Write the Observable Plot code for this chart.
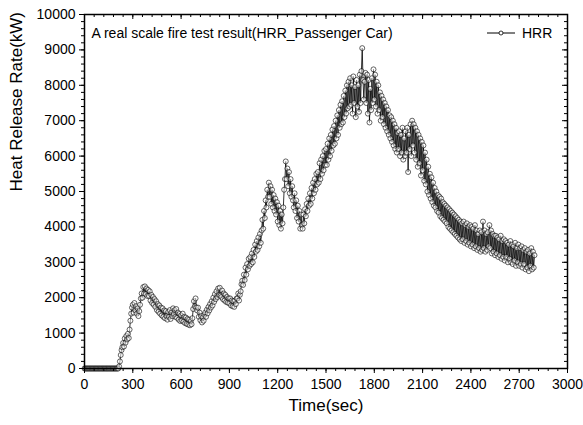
<!DOCTYPE html>
<html><head><meta charset="utf-8">
<script src="https://cdn.jsdelivr.net/npm/d3@7"></script>
<script src="https://cdn.jsdelivr.net/npm/@observablehq/plot@0.6"></script>
<style>
body{margin:0;background:#fff;}
svg{font-family:"Liberation Sans",Arial,sans-serif;}
</style>
</head><body><div id="chart"></div>
<script>
// ---- data ----
const timeStart = 0;      // s
const timeStep = 5;       // s between samples
const hrr = [
  0,0,0,0,0,0,0,0,0,0,
  0,0,0,0,0,0,0,0,0,0,
  0,0,0,0,0,0,0,0,0,0,
  0,0,0,0,0,0,0,0,0,0,
  0,0,0,60,200,380,520,600,720,620,
  850,730,920,820,980,860,1100,1350,1550,1720,
  1800,1580,1850,1650,1760,1550,1700,1480,1620,1800,
  1980,2120,2000,2300,2120,2320,2100,2260,2050,2220,
  2050,2180,1920,2080,1850,2020,1800,1960,1740,1900,
  1650,1820,1600,1780,1550,1720,1500,1700,1460,1640,
  1420,1620,1480,1380,1600,1460,1650,1400,1580,1480,
  1700,1540,1650,1460,1680,1430,1580,1380,1540,1340,
  1500,1360,1550,1320,1460,1280,1440,1260,1400,1240,
  1380,1220,1340,1250,1420,1680,1900,1760,1980,1720,
  1640,1720,1460,1580,1360,1480,1300,1440,1350,1520,
  1580,1460,1660,1560,1740,1640,1820,1720,1900,1780,
  2000,1880,2100,1960,2180,2020,2260,2080,2280,2060,
  2020,2200,1960,2120,1920,2080,1880,2020,1860,1980,
  1840,1980,1780,1920,1760,1900,1740,1920,1820,1980,
  1980,2120,1920,2080,2180,2380,2480,2360,2650,2500,
  2850,2650,2950,2800,3100,2900,3150,2950,3250,3000,
  3350,3150,3500,3300,3600,3350,3700,3450,3800,3550,
  3900,4200,3950,4450,4250,4750,4550,5050,4850,5250,
  4850,5150,4650,5050,4550,4900,4450,4800,4350,4700,
  4150,4600,4050,4450,3950,4350,4100,4550,5050,5350,
  5850,5350,5650,5150,5550,4950,5350,4850,5150,4750,
  4550,4950,4450,4750,4250,4600,4150,4450,3950,4350,
  4050,3950,4350,4100,4500,4300,4650,4450,4800,4600,
  4950,4650,5100,4800,5250,4950,5350,5050,5500,5200,
  5550,5250,5800,5350,5900,5500,6000,5600,6150,5750,
  6200,5750,6350,5900,6500,6000,6600,6150,6750,6300,
  6850,6350,7000,6500,7150,6600,7300,6800,7450,6900,
  7550,6950,7700,7100,7850,7200,8000,7350,8100,7400,
  8200,7450,8000,7200,8250,7500,7950,7100,8150,7400,
  8000,7250,8300,7500,8400,9050,8150,7600,8100,8350,
  7500,8300,7200,8150,6950,7900,7300,8200,7500,8450,
  7600,8300,7400,8100,7200,8000,7300,7800,7000,7700,
  7100,7600,6900,7500,6800,7400,6700,7300,6600,7150,
  6500,7100,6400,7000,6300,6900,6200,6800,6100,6650,
  6200,6700,6000,6600,6100,6800,5900,6500,6000,6700,
  6100,6800,5550,6600,6200,6900,6000,7000,6300,6900,
  6100,6800,5900,6700,5700,6600,5800,6500,5450,6400,
  5600,6300,5300,6100,5200,5900,5000,5700,4900,5500,
  4800,5400,4700,5250,4600,5100,4550,5000,4450,4900,
  4400,4850,4300,4800,4250,4700,4200,4650,4150,4600,
  4100,4550,4000,4500,3950,4450,3900,4400,3850,4350,
  3800,4300,3750,4250,3700,4200,3650,4150,3600,4100,
  3650,4150,3550,4050,3600,4100,3500,4000,3550,4050,
  3450,4000,3500,3950,3400,4050,3450,3900,3350,3800,
  3400,3900,3300,3850,3350,4150,3400,3900,3300,3800,
  3350,3850,3450,4050,3400,3900,3250,3800,3300,3750,
  3200,3750,3250,3700,3150,3650,3200,3750,3100,3600,
  3150,3650,3050,3600,3150,3550,3000,3500,3100,3600,
  3000,3500,2950,3450,3050,3550,2900,3400,3000,3500,
  2900,3400,2950,3450,2850,3350,2950,3400,2800,3300,
  2850,3350,2750,3250,2900,3400,2800,3300,2850,3200
];
const xTicks = [0,300,600,900,1200,1500,1800,2100,2400,2700,3000];
const yTicks = [0,1000,2000,3000,4000,5000,6000,7000,8000,9000,10000];
const xMinorStep = 60;
const yMinorStep = 200;
const titleText = "A real scale fire test result(HRR_Passenger Car)";
const seriesName = "HRR";
const xLabel = "Time(sec)";
const yLabel = "Heat Release Rate(kW)";

// ---- build ----
const data = hrr.map((v, i) => ({t: timeStart + i * timeStep, v}));
const xMinor = d3.range(xTicks[0], xTicks[xTicks.length - 1] + 1, xMinorStep);
const yMinor = d3.range(yTicks[0], yTicks[yTicks.length - 1] + 1, yMinorStep);

const W = 583, H = 425, mL = 84, mR = 16, mT = 14, mB = 57;
const pW = W - mL - mR, pH = H - mT - mB;
const fmt = d3.format("d");

const chart = Plot.plot({
  width: W, height: H,
  marginLeft: mL, marginRight: mR, marginTop: mT, marginBottom: mB,
  style: {fontFamily: "Liberation Sans, Arial, sans-serif", fontSize: "14px", background: "#fff", color: "#000"},
  x: {domain: [xTicks[0], xTicks[xTicks.length - 1]], label: null},
  y: {domain: [yTicks[0], yTicks[yTicks.length - 1]], label: null},
  marks: [
    Plot.line(data, {x: "t", y: "v", stroke: "#000", strokeWidth: 0.8}),
    Plot.dot(data, {x: "t", y: "v", r: 2.5, fill: "#fff", fillOpacity: 0.5, stroke: "#000", strokeWidth: 0.6}),
    Plot.frame({stroke: "#000", strokeWidth: 1.5}),
    // bottom / left outward ticks with labels
    Plot.axisX(xTicks, {anchor: "bottom", tickSize: 5, tickPadding: 6, tickFormat: fmt, fontSize: 14, label: null}),
    Plot.axisX(xMinor, {anchor: "bottom", tickSize: 3, tickFormat: () => "", label: null}),
    Plot.axisY(yTicks, {anchor: "left", tickSize: 5, tickPadding: 4, tickFormat: fmt, fontSize: 14, label: null}),
    Plot.axisY(yMinor, {anchor: "left", tickSize: 3, tickFormat: () => "", label: null}),
    // top / right inward ticks
    Plot.tickX(xTicks, {x: d => d, insetBottom: pH - 5, stroke: "#000"}),
    Plot.tickX(xMinor, {x: d => d, insetBottom: pH - 3, stroke: "#000"}),
    Plot.tickY(yTicks, {y: d => d, insetLeft: pW - 5, stroke: "#000"}),
    Plot.tickY(yMinor, {y: d => d, insetLeft: pW - 3, stroke: "#000"}),
    // texts
    Plot.text([titleText], {frameAnchor: "top-left", dx: 7, dy: 19, textAnchor: "start", lineAnchor: "middle", fontSize: 14, fill: "#000"}),
    Plot.text([xLabel], {frameAnchor: "bottom", dy: 37, lineAnchor: "middle", fontSize: 17, fill: "#000"}),
    Plot.text([yLabel], {frameAnchor: "left", dx: -68, rotate: -90, lineAnchor: "middle", fontSize: 17, fill: "#000"})
  ]
});

// legend inside the frame, top-right
const svg = d3.select(chart);
const xr = W - mR, ly = mT + 19;
const lg = svg.append("g");
lg.append("line").attr("x1", xr - 80).attr("x2", xr - 52).attr("y1", ly).attr("y2", ly)
  .attr("stroke", "#000").attr("stroke-width", 1);
lg.append("circle").attr("cx", xr - 66).attr("cy", ly).attr("r", 2)
  .attr("fill", "#fff").attr("stroke", "#000").attr("stroke-width", 0.8);
lg.append("text").attr("x", xr - 45).attr("y", ly).attr("dy", "0.35em")
  .attr("text-anchor", "start").attr("font-size", 14).attr("fill", "#000").text(seriesName);

document.getElementById("chart").appendChild(chart);
</script>
</body></html>
